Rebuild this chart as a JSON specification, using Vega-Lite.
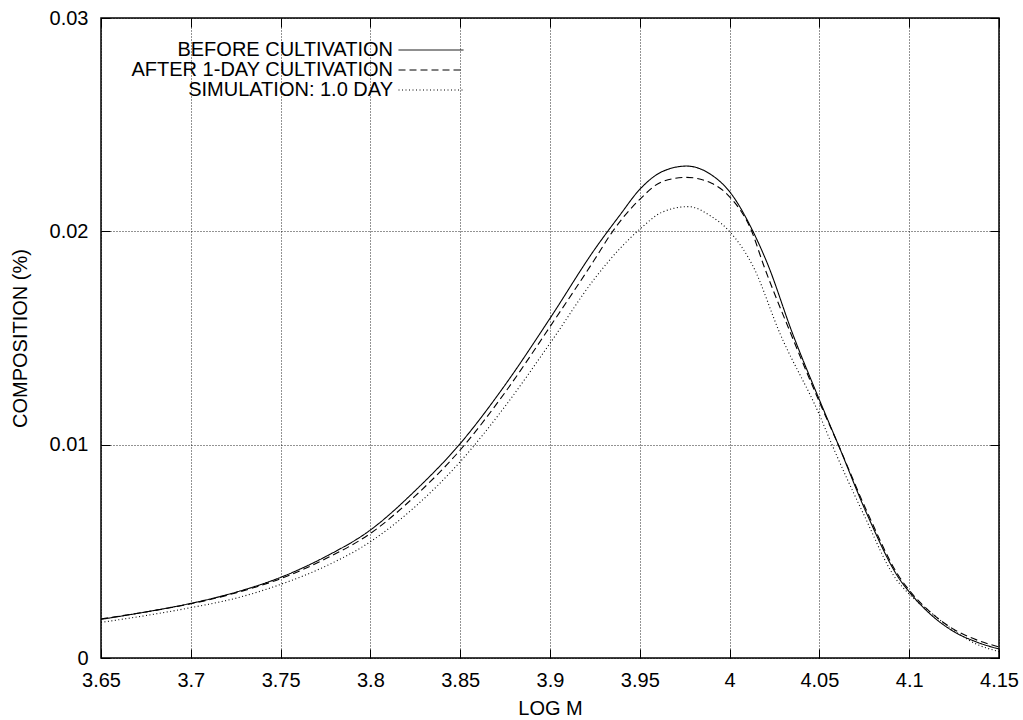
{
  "$schema": "https://vega.github.io/schema/vega-lite/v6.json",
  "width": 898,
  "height": 640,
  "autosize": {"type": "none"},
  "padding": {"left": 101, "top": 18, "right": 24, "bottom": 62},
  "background": "white",
  "config": {
    "font": "Liberation Sans",
    "view": {"stroke": "#000", "strokeWidth": 1.5},
    "axis": {
      "labelFont": "Liberation Sans", "labelFontSize": 20, "labelColor": "#000",
      "titleFont": "Liberation Sans", "titleFontSize": 20, "titleFontWeight": "normal", "titleColor": "#000",
      "domain": false, "tickColor": "#000", "tickSize": -9, "tickWidth": 1,
      "gridColor": "#000", "gridDash": [1, 2], "gridOpacity": 0.85, "gridWidth": 1,
      "labelFlush": false, "labelOverlap": false
    },
    "legend": {
      "title": null, "orient": "none", "legendX": 297, "legendY": 22, "direction": "vertical",
      "symbolType": "stroke", "symbolSize": 4225, "symbolStrokeColor": "#000", "symbolStrokeWidth": 1,
      "labelAlign": "right", "labelOffset": -71, "labelFontSize": 20, "labelFont": "Liberation Sans",
      "labelColor": "#000", "labelLimit": 0, "rowPadding": 0
    }
  },
  "datasets": {
    "curves": [
      {"logM": 3.65, "comp": 0.00181, "series": "BEFORE CULTIVATION"},
      {"logM": 3.675, "comp": 0.00216, "series": "BEFORE CULTIVATION"},
      {"logM": 3.70, "comp": 0.00256, "series": "BEFORE CULTIVATION"},
      {"logM": 3.725, "comp": 0.00308, "series": "BEFORE CULTIVATION"},
      {"logM": 3.75, "comp": 0.00378, "series": "BEFORE CULTIVATION"},
      {"logM": 3.775, "comp": 0.00475, "series": "BEFORE CULTIVATION"},
      {"logM": 3.80, "comp": 0.00600, "series": "BEFORE CULTIVATION"},
      {"logM": 3.825, "comp": 0.00785, "series": "BEFORE CULTIVATION"},
      {"logM": 3.85, "comp": 0.01005, "series": "BEFORE CULTIVATION"},
      {"logM": 3.875, "comp": 0.01280, "series": "BEFORE CULTIVATION"},
      {"logM": 3.90, "comp": 0.01592, "series": "BEFORE CULTIVATION"},
      {"logM": 3.925, "comp": 0.01917, "series": "BEFORE CULTIVATION"},
      {"logM": 3.939, "comp": 0.02077, "series": "BEFORE CULTIVATION"},
      {"logM": 3.95, "comp": 0.02197, "series": "BEFORE CULTIVATION"},
      {"logM": 3.9625, "comp": 0.02280, "series": "BEFORE CULTIVATION"},
      {"logM": 3.976, "comp": 0.02306, "series": "BEFORE CULTIVATION"},
      {"logM": 3.99, "comp": 0.02264, "series": "BEFORE CULTIVATION"},
      {"logM": 4.00, "comp": 0.02186, "series": "BEFORE CULTIVATION"},
      {"logM": 4.013, "comp": 0.02000, "series": "BEFORE CULTIVATION"},
      {"logM": 4.021, "comp": 0.01850, "series": "BEFORE CULTIVATION"},
      {"logM": 4.035, "comp": 0.01522, "series": "BEFORE CULTIVATION"},
      {"logM": 4.05, "comp": 0.01210, "series": "BEFORE CULTIVATION"},
      {"logM": 4.0605, "comp": 0.01000, "series": "BEFORE CULTIVATION"},
      {"logM": 4.0763, "comp": 0.00678, "series": "BEFORE CULTIVATION"},
      {"logM": 4.0949, "comp": 0.00366, "series": "BEFORE CULTIVATION"},
      {"logM": 4.10, "comp": 0.00310, "series": "BEFORE CULTIVATION"},
      {"logM": 4.1125, "comp": 0.00200, "series": "BEFORE CULTIVATION"},
      {"logM": 4.125, "comp": 0.00123, "series": "BEFORE CULTIVATION"},
      {"logM": 4.1375, "comp": 0.00075, "series": "BEFORE CULTIVATION"},
      {"logM": 4.15, "comp": 0.00042, "series": "BEFORE CULTIVATION"},

      {"logM": 3.65, "comp": 0.00183, "series": "AFTER 1-DAY CULTIVATION"},
      {"logM": 3.675, "comp": 0.00216, "series": "AFTER 1-DAY CULTIVATION"},
      {"logM": 3.70, "comp": 0.00254, "series": "AFTER 1-DAY CULTIVATION"},
      {"logM": 3.725, "comp": 0.00305, "series": "AFTER 1-DAY CULTIVATION"},
      {"logM": 3.75, "comp": 0.00372, "series": "AFTER 1-DAY CULTIVATION"},
      {"logM": 3.775, "comp": 0.00465, "series": "AFTER 1-DAY CULTIVATION"},
      {"logM": 3.80, "comp": 0.00584, "series": "AFTER 1-DAY CULTIVATION"},
      {"logM": 3.825, "comp": 0.00760, "series": "AFTER 1-DAY CULTIVATION"},
      {"logM": 3.85, "comp": 0.00975, "series": "AFTER 1-DAY CULTIVATION"},
      {"logM": 3.875, "comp": 0.01245, "series": "AFTER 1-DAY CULTIVATION"},
      {"logM": 3.90, "comp": 0.01553, "series": "AFTER 1-DAY CULTIVATION"},
      {"logM": 3.925, "comp": 0.01870, "series": "AFTER 1-DAY CULTIVATION"},
      {"logM": 3.9349, "comp": 0.02000, "series": "AFTER 1-DAY CULTIVATION"},
      {"logM": 3.95, "comp": 0.02150, "series": "AFTER 1-DAY CULTIVATION"},
      {"logM": 3.9625, "comp": 0.02233, "series": "AFTER 1-DAY CULTIVATION"},
      {"logM": 3.976, "comp": 0.02253, "series": "AFTER 1-DAY CULTIVATION"},
      {"logM": 3.99, "comp": 0.02225, "series": "AFTER 1-DAY CULTIVATION"},
      {"logM": 4.00, "comp": 0.02162, "series": "AFTER 1-DAY CULTIVATION"},
      {"logM": 4.0123, "comp": 0.02000, "series": "AFTER 1-DAY CULTIVATION"},
      {"logM": 4.019, "comp": 0.01840, "series": "AFTER 1-DAY CULTIVATION"},
      {"logM": 4.034, "comp": 0.01522, "series": "AFTER 1-DAY CULTIVATION"},
      {"logM": 4.05, "comp": 0.01200, "series": "AFTER 1-DAY CULTIVATION"},
      {"logM": 4.0605, "comp": 0.01000, "series": "AFTER 1-DAY CULTIVATION"},
      {"logM": 4.0763, "comp": 0.00690, "series": "AFTER 1-DAY CULTIVATION"},
      {"logM": 4.0949, "comp": 0.00375, "series": "AFTER 1-DAY CULTIVATION"},
      {"logM": 4.10, "comp": 0.00318, "series": "AFTER 1-DAY CULTIVATION"},
      {"logM": 4.1125, "comp": 0.00210, "series": "AFTER 1-DAY CULTIVATION"},
      {"logM": 4.125, "comp": 0.00134, "series": "AFTER 1-DAY CULTIVATION"},
      {"logM": 4.1375, "comp": 0.00085, "series": "AFTER 1-DAY CULTIVATION"},
      {"logM": 4.15, "comp": 0.00052, "series": "AFTER 1-DAY CULTIVATION"},

      {"logM": 3.65, "comp": 0.00167, "series": "SIMULATION: 1.0 DAY"},
      {"logM": 3.675, "comp": 0.00199, "series": "SIMULATION: 1.0 DAY"},
      {"logM": 3.70, "comp": 0.00236, "series": "SIMULATION: 1.0 DAY"},
      {"logM": 3.725, "comp": 0.00280, "series": "SIMULATION: 1.0 DAY"},
      {"logM": 3.75, "comp": 0.00345, "series": "SIMULATION: 1.0 DAY"},
      {"logM": 3.775, "comp": 0.00430, "series": "SIMULATION: 1.0 DAY"},
      {"logM": 3.80, "comp": 0.00545, "series": "SIMULATION: 1.0 DAY"},
      {"logM": 3.825, "comp": 0.00710, "series": "SIMULATION: 1.0 DAY"},
      {"logM": 3.85, "comp": 0.00920, "series": "SIMULATION: 1.0 DAY"},
      {"logM": 3.875, "comp": 0.01180, "series": "SIMULATION: 1.0 DAY"},
      {"logM": 3.90, "comp": 0.01475, "series": "SIMULATION: 1.0 DAY"},
      {"logM": 3.925, "comp": 0.01780, "series": "SIMULATION: 1.0 DAY"},
      {"logM": 3.939, "comp": 0.01920, "series": "SIMULATION: 1.0 DAY"},
      {"logM": 3.95, "comp": 0.02010, "series": "SIMULATION: 1.0 DAY"},
      {"logM": 3.9625, "comp": 0.02090, "series": "SIMULATION: 1.0 DAY"},
      {"logM": 3.977, "comp": 0.02116, "series": "SIMULATION: 1.0 DAY"},
      {"logM": 3.99, "comp": 0.02069, "series": "SIMULATION: 1.0 DAY"},
      {"logM": 4.00, "comp": 0.01999, "series": "SIMULATION: 1.0 DAY"},
      {"logM": 4.0132, "comp": 0.01834, "series": "SIMULATION: 1.0 DAY"},
      {"logM": 4.028, "comp": 0.01522, "series": "SIMULATION: 1.0 DAY"},
      {"logM": 4.05, "comp": 0.01140, "series": "SIMULATION: 1.0 DAY"},
      {"logM": 4.057, "comp": 0.01000, "series": "SIMULATION: 1.0 DAY"},
      {"logM": 4.0744, "comp": 0.00678, "series": "SIMULATION: 1.0 DAY"},
      {"logM": 4.093, "comp": 0.00366, "series": "SIMULATION: 1.0 DAY"},
      {"logM": 4.10, "comp": 0.00300, "series": "SIMULATION: 1.0 DAY"},
      {"logM": 4.1125, "comp": 0.00210, "series": "SIMULATION: 1.0 DAY"},
      {"logM": 4.125, "comp": 0.00128, "series": "SIMULATION: 1.0 DAY"},
      {"logM": 4.1375, "comp": 0.00065, "series": "SIMULATION: 1.0 DAY"},
      {"logM": 4.15, "comp": 0.00030, "series": "SIMULATION: 1.0 DAY"}
    ]
  },
  "layer": [
    {
      "data": {"name": "curves"},
      "mark": {"type": "line", "color": "#000", "strokeWidth": 1.1, "interpolate": "monotone", "clip": true},
      "encoding": {
        "x": {
          "field": "logM", "type": "quantitative",
          "scale": {"domain": [3.65, 4.15], "nice": false, "zero": false},
          "axis": {"title": "LOG M", "values": [3.65, 3.7, 3.75, 3.8, 3.85, 3.9, 3.95, 4, 4.05, 4.1, 4.15], "format": "~g", "grid": true, "labelPadding": 21.5, "titlePadding": 8}
        },
        "y": {
          "field": "comp", "type": "quantitative",
          "scale": {"domain": [0, 0.03], "nice": false},
          "axis": {"title": "COMPOSITION (%)", "values": [0, 0.01, 0.02, 0.03], "format": "~g", "grid": true, "labelPadding": 22, "titlePadding": 19}
        },
        "strokeDash": {
          "field": "series", "type": "nominal",
          "scale": {"domain": ["BEFORE CULTIVATION", "AFTER 1-DAY CULTIVATION", "SIMULATION: 1.0 DAY"], "range": [[1, 0], [7, 4], [1, 2.5]]},
          "legend": {
            "encode": {
              "symbols": {"update": {"y": {"value": 10}}},
              "labels": {"update": {"y": {"value": 10}}}
            }
          }
        }
      }
    },
    {
      "data": {"name": "curves"},
      "mark": {"type": "line", "opacity": 0},
      "encoding": {
        "x": {"field": "logM", "type": "quantitative", "axis": {"orient": "top", "labels": false, "title": null, "grid": false, "values": [3.65, 3.7, 3.75, 3.8, 3.85, 3.9, 3.95, 4, 4.05, 4.1, 4.15]}},
        "y": {"field": "comp", "type": "quantitative", "axis": {"orient": "right", "labels": false, "title": null, "grid": false, "values": [0, 0.01, 0.02, 0.03]}}
      }
    }
  ],
  "resolve": {"axis": {"x": "independent", "y": "independent"}}
}
